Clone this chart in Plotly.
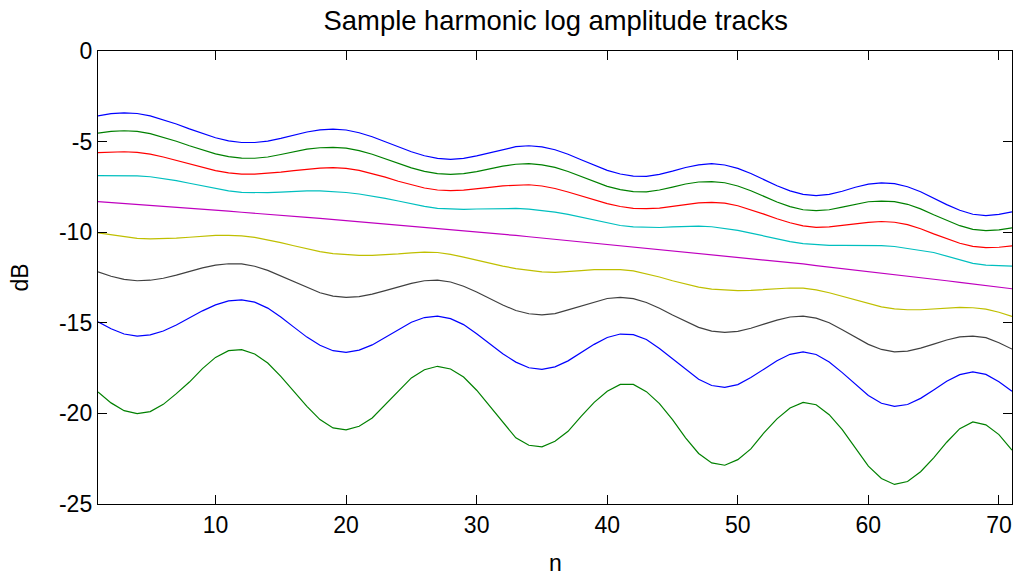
import plotly.graph_objects as go

n = list(range(1, 72))

track1 = [-3.58, -3.46, -3.41, -3.45, -3.58, -3.79, -4.03, -4.30, -4.56, -4.79,
          -4.96, -5.05, -5.05, -4.97, -4.82, -4.64, -4.47, -4.35, -4.31, -4.36,
          -4.51, -4.73, -5.00, -5.29, -5.56, -5.78, -5.93, -5.98, -5.93, -5.79,
          -5.61, -5.42, -5.28, -5.23, -5.29, -5.45, -5.70, -6.00, -6.31, -6.59,
          -6.79, -6.91, -6.92, -6.81, -6.63, -6.43, -6.28, -6.22, -6.29, -6.48,
          -6.76, -7.10, -7.44, -7.72, -7.91, -7.98, -7.91, -7.74, -7.52, -7.35,
          -7.28, -7.32, -7.49, -7.77, -8.13, -8.48, -8.79, -9.01, -9.08, -9.02,
          -8.88]

track2 = [-4.53, -4.44, -4.40, -4.44, -4.56, -4.76, -4.98, -5.23, -5.46, -5.68,
          -5.83, -5.91, -5.92, -5.85, -5.71, -5.56, -5.42, -5.34, -5.32, -5.36,
          -5.50, -5.70, -5.94, -6.20, -6.45, -6.64, -6.77, -6.81, -6.77, -6.66,
          -6.50, -6.35, -6.25, -6.22, -6.28, -6.42, -6.65, -6.93, -7.21, -7.47,
          -7.65, -7.76, -7.77, -7.67, -7.51, -7.34, -7.23, -7.21, -7.27, -7.45,
          -7.71, -8.02, -8.33, -8.59, -8.76, -8.81, -8.76, -8.62, -8.45, -8.32,
          -8.28, -8.31, -8.46, -8.71, -9.04, -9.36, -9.64, -9.84, -9.91, -9.87,
          -9.76]

track3 = [-5.61, -5.57, -5.56, -5.59, -5.69, -5.85, -6.03, -6.24, -6.43, -6.60,
          -6.73, -6.80, -6.80, -6.76, -6.69, -6.60, -6.52, -6.46, -6.44, -6.48,
          -6.59, -6.76, -6.96, -7.19, -7.39, -7.56, -7.67, -7.71, -7.68, -7.62,
          -7.53, -7.44, -7.39, -7.38, -7.45, -7.59, -7.78, -7.99, -8.22, -8.42,
          -8.58, -8.68, -8.70, -8.67, -8.58, -8.47, -8.38, -8.35, -8.40, -8.54,
          -8.75, -9.00, -9.26, -9.48, -9.65, -9.73, -9.71, -9.62, -9.54, -9.46,
          -9.41, -9.45, -9.58, -9.81, -10.09, -10.37, -10.61, -10.78, -10.85, -10.83,
          -10.75]

track4 = [-6.88, -6.87, -6.87, -6.89, -6.94, -7.03, -7.15, -7.30, -7.45, -7.60,
          -7.72, -7.80, -7.83, -7.82, -7.79, -7.75, -7.72, -7.72, -7.75, -7.81,
          -7.89, -8.00, -8.13, -8.28, -8.43, -8.57, -8.68, -8.73, -8.74, -8.72,
          -8.70, -8.68, -8.69, -8.73, -8.79, -8.89, -9.02, -9.17, -9.35, -9.51,
          -9.63, -9.71, -9.74, -9.74, -9.71, -9.68, -9.67, -9.70, -9.78, -9.90,
          -10.05, -10.22, -10.38, -10.52, -10.63, -10.70, -10.73, -10.73, -10.72, -10.72,
          -10.74, -10.79, -10.88, -11.01, -11.12, -11.33, -11.55, -11.72, -11.82, -11.86,
          -11.87]

track5 = [-8.31, -8.36, -8.41, -8.47, -8.52, -8.57, -8.62, -8.68, -8.73, -8.79,
          -8.84, -8.90, -8.95, -9.01, -9.07, -9.13, -9.18, -9.24, -9.30, -9.36,
          -9.42, -9.48, -9.55, -9.61, -9.67, -9.73, -9.79, -9.86, -9.92, -9.99,
          -10.05, -10.12, -10.18, -10.25, -10.32, -10.38, -10.45, -10.52, -10.59, -10.66,
          -10.73, -10.80, -10.87, -10.94, -11.01, -11.08, -11.16, -11.23, -11.30, -11.38,
          -11.45, -11.53, -11.60, -11.68, -11.75, -11.84, -11.92, -12.00, -12.08, -12.17,
          -12.25, -12.34, -12.42, -12.51, -12.60, -12.68, -12.77, -12.86, -12.95, -13.04,
          -13.12]

track6 = [-10.04, -10.15, -10.26, -10.34, -10.37, -10.36, -10.33, -10.28, -10.22, -10.18,
          -10.17, -10.20, -10.29, -10.42, -10.58, -10.75, -10.92, -11.07, -11.18, -11.25,
          -11.28, -11.28, -11.25, -11.20, -11.14, -11.10, -11.12, -11.22, -11.38, -11.55,
          -11.72, -11.87, -12.01, -12.12, -12.19, -12.22, -12.19, -12.12, -12.06, -12.04,
          -12.06, -12.13, -12.28, -12.47, -12.68, -12.87, -13.03, -13.14, -13.20, -13.22,
          -13.21, -13.17, -13.12, -13.08, -13.09, -13.18, -13.34, -13.54, -13.76, -13.96,
          -14.12, -14.23, -14.28, -14.28, -14.24, -14.18, -14.15, -14.17, -14.25, -14.42,
          -14.65]

track7 = [-12.19, -12.43, -12.60, -12.68, -12.65, -12.54, -12.37, -12.16, -11.97, -11.82,
          -11.74, -11.75, -11.88, -12.11, -12.42, -12.75, -13.07, -13.34, -13.53, -13.60,
          -13.56, -13.42, -13.22, -13.00, -12.82, -12.68, -12.65, -12.75, -12.98, -13.30,
          -13.66, -14.02, -14.32, -14.50, -14.56, -14.49, -14.29, -14.07, -13.84, -13.66,
          -13.60, -13.67, -13.88, -14.20, -14.57, -14.93, -15.25, -15.46, -15.53, -15.47,
          -15.30, -15.07, -14.85, -14.68, -14.63, -14.74, -15.00, -15.38, -15.80, -16.19,
          -16.47, -16.60, -16.56, -16.40, -16.18, -15.95, -15.78, -15.73, -15.82, -16.10,
          -16.45]

track8 = [-14.94, -15.33, -15.62, -15.73, -15.67, -15.45, -15.12, -14.73, -14.34, -14.01,
          -13.79, -13.73, -13.86, -14.19, -14.68, -15.24, -15.79, -16.24, -16.54, -16.63,
          -16.51, -16.22, -15.81, -15.36, -14.97, -14.71, -14.63, -14.77, -15.10, -15.60,
          -16.16, -16.71, -17.17, -17.48, -17.57, -17.43, -17.10, -16.66, -16.19, -15.81,
          -15.62, -15.65, -15.92, -16.42, -16.99, -17.59, -18.12, -18.46, -18.56, -18.41,
          -18.02, -17.56, -17.09, -16.74, -16.61, -16.75, -17.16, -17.75, -18.40, -19.01,
          -19.44, -19.61, -19.51, -19.17, -18.71, -18.23, -17.86, -17.71, -17.85, -18.25,
          -18.78]

track9 = [-18.82, -19.42, -19.85, -20.01, -19.90, -19.50, -18.91, -18.27, -17.53, -16.91,
          -16.54, -16.48, -16.72, -17.22, -17.96, -18.76, -19.61, -20.34, -20.80, -20.91,
          -20.71, -20.25, -19.52, -18.78, -18.04, -17.59, -17.40, -17.55, -17.99, -18.72,
          -19.61, -20.52, -21.35, -21.76, -21.85, -21.54, -20.99, -20.16, -19.39, -18.78,
          -18.40, -18.40, -18.80, -19.46, -20.34, -21.35, -22.21, -22.73, -22.86, -22.55,
          -21.96, -21.07, -20.30, -19.70, -19.39, -19.52, -20.07, -20.89, -21.90, -22.91,
          -23.59, -23.92, -23.76, -23.22, -22.45, -21.59, -20.84, -20.47, -20.63, -21.17,
          -22.03]

tracks = [track1, track2, track3, track4, track5, track6, track7, track8, track9]
colors = ["rgb(0,0,255)", "rgb(0,128,0)", "rgb(255,0,0)", "rgb(0,191,191)",
          "rgb(191,0,191)", "rgb(191,191,0)", "rgb(64,64,64)", "rgb(0,0,255)",
          "rgb(0,128,0)"]

x_ticks = [10, 20, 30, 40, 50, 60, 70]
y_ticks = [0, -5, -10, -15, -20, -25]
y_tick_text = ["0", "-5", "-10", "-15", "-20", "-25"]

fig = go.Figure()
for trk, col in zip(tracks, colors):
    fig.add_trace(go.Scatter(x=n, y=trk, mode="lines",
                             line=dict(color=col, width=1.2),
                             showlegend=False, hoverinfo="skip"))

FONT = "Liberation Sans, Arial, Helvetica, sans-serif"
axis_common = dict(showline=True, linecolor="black", linewidth=1.2,
                   mirror="ticks", ticks="inside", ticklen=9, tickwidth=1,
                   tickcolor="black", showgrid=False, zeroline=False,
                   automargin=False,
                   tickfont=dict(family=FONT, size=23, color="black"))

fig.update_xaxes(range=[1, 71], tickvals=x_ticks, **axis_common)
fig.update_yaxes(range=[-25, 0], tickvals=y_ticks, ticktext=y_tick_text,
                 title=dict(text="dB", font=dict(family=FONT, size=23, color="black"),
                            standoff=24),
                 **axis_common)

fig.add_annotation(text="n", xref="paper", yref="paper", x=0.5, y=0,
                   xanchor="center", yanchor="middle", yshift=-59,
                   showarrow=False,
                   font=dict(family=FONT, size=23, color="black"))

fig.update_layout(
    width=1016, height=573,
    margin=dict(l=98, r=4, t=51, b=69, autoexpand=False),
    paper_bgcolor="white", plot_bgcolor="white",
    hovermode=False,
    title=dict(text="Sample harmonic log amplitude tracks",
               font=dict(family=FONT, size=27.4, color="black"),
               x=0.547, xanchor="center", y=0.964, yanchor="middle"),
)

fig.write_html("out.html",
               config={"displayModeBar": False, "staticPlot": True},
               post_script="document.body.style.margin='0';"
                           "document.body.style.overflow='hidden';")
